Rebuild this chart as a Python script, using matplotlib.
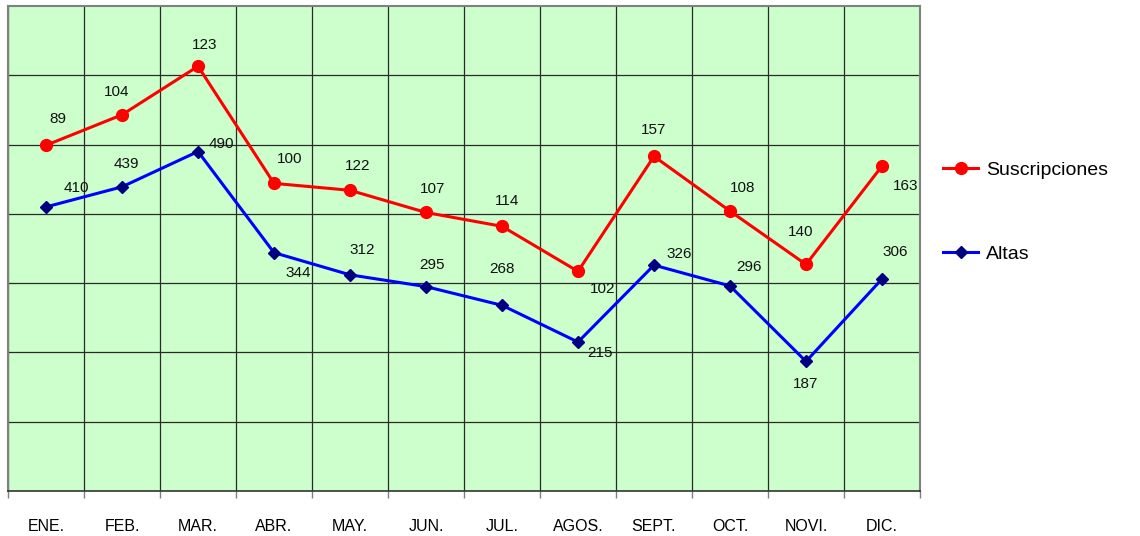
import matplotlib.pyplot as plt
import numpy as np

plt.rcParams["font.family"] = ["Liberation Sans", "DejaVu Sans"]

months = ["ENE.", "FEB.", "MAR.", "ABR.", "MAY.", "JUN.", "JUL.",
          "AGOS.", "SEPT.", "OCT.", "NOVI.", "DIC."]
altas = [410, 439, 490, 344, 312, 295, 268, 215, 326, 296, 187, 306]
suscripciones = [89, 104, 123, 100, 122, 107, 114, 102, 157, 108, 140, 163]

# label offsets in pixels (dx, dy), tuned by hand per point
altas_off = [(30, 19), (4, 23), (23, 8), (24, -20), (12, 25), (6, 22),
             (0, 36), (22, -11), (25, 11), (19, 19), (0, -23), (13, 27)]
susc_off = [(12, 26), (-5, 23), (7, 21), (16, 24), (8, 24), (7, 23),
            (5, 25), (25, -18), (0, 26), (13, 23), (-5, 32), (24, -20)]

x = np.arange(len(months))
# stacked line chart: Suscripciones sits on top of Altas
stacked = np.array(altas) + np.array(suscripciones)

fig = plt.figure(figsize=(11.4, 5.36), dpi=100)
ax = fig.add_axes([8 / 1140, 45 / 536, 912 / 1140, 485 / 536])
ax.set_facecolor("#CCFFCC")

ax.plot(x, stacked, color="#FF0000", lw=2.2, marker="o", ms=8.5,
        mfc="#FF0000", mec="#FF0000", label="Suscripciones", zorder=3)
ax.plot(x, altas, color="#0000FF", lw=2.2, marker="D", ms=6,
        mfc="#000080", mec="#000080", label="Altas", zorder=3)

for xi, yi, v, (dx, dy) in zip(x, stacked, suscripciones, susc_off):
    ax.annotate(str(v), (xi, yi), xytext=(dx, dy), textcoords="offset pixels",
                ha="center", va="center", fontsize=11, color="#111111")
for xi, yi, v, (dx, dy) in zip(x, altas, altas, altas_off):
    ax.annotate(str(v), (xi, yi), xytext=(dx, dy), textcoords="offset pixels",
                ha="center", va="center", fontsize=11, color="#111111")

ax.set_xlim(-0.5, len(months) - 0.5)
ax.set_ylim(0, 700)

ax.set_xticks(np.arange(len(months) + 1) - 0.5)
ax.set_xticklabels([])
ax.set_xticks(x, minor=True)
ax.set_xticklabels(months, minor=True, fontsize=11.5)
ax.tick_params(axis="x", which="major", length=5, width=1, color="#808080",
               direction="out")
ax.tick_params(axis="x", which="minor", length=0, pad=20)
ax.set_yticks(np.arange(100, 700, 100))
ax.tick_params(axis="y", length=0, labelleft=False)

ax.grid(True, which="major", color="#2a2a2a", lw=0.9)
ax.set_axisbelow(True)
for side in ("top", "left", "right"):
    ax.spines[side].set_color("#808080")
    ax.spines[side].set_linewidth(1.5)
ax.spines["bottom"].set_color("#333333")
ax.spines["bottom"].set_linewidth(1.2)

ax.legend(loc="center left", bbox_to_anchor=(1.017, 0.575),
          frameon=False, fontsize=14, labelspacing=3.45, handlelength=1.8,
          handletextpad=0.4, borderaxespad=0)

fig.savefig("out.png", dpi=100)
